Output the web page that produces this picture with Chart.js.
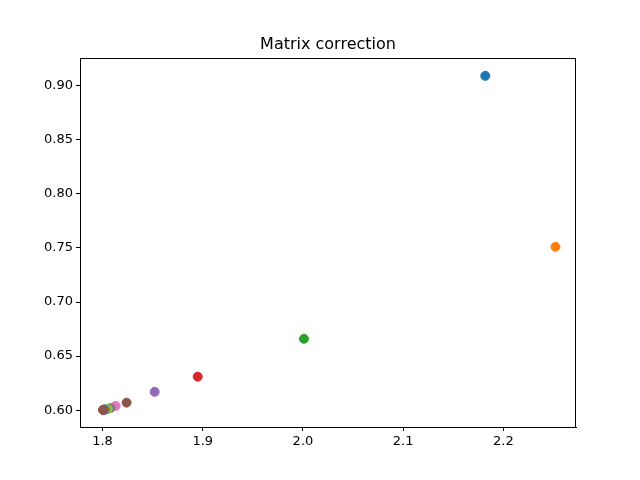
<!DOCTYPE html>
<html><head><meta charset="utf-8">
<script src="https://cdn.jsdelivr.net/npm/chart.js@4"></script>
<style>html,body{margin:0;background:#fff}#wrap{width:640px;height:480px}</style>
</head><body><div id="wrap"><canvas id="c"></canvas></div>
<script>
// steps of matrix correction, x vs y
const xVals=[2.182,2.252,2.001,1.895,1.852,1.824,1.813,1.808,1.805,1.803,1.802,1.8015,1.801,1.8008,1.8006,1.8005];
const yVals=[0.909,0.751,0.666,0.631,0.617,0.607,0.604,0.602,0.601,0.6008,0.6006,0.6005,0.6004,0.6003,0.6003,0.6003];
const CYCLE=['#1f77b4','#ff7f0e','#2ca02c','#d62728','#9467bd','#8c564b','#e377c2','#7f7f7f','#bcbd22','#17becf'];
const TITLE='Matrix correction';
const pts=xVals.map((x,i)=>({x,y:yVals[i]}));
const cols=xVals.map((_,i)=>CYCLE[i%10]);
const F='"DejaVu Sans"';
const frame={id:'frame',afterDraw(ch){const a=ch.chartArea,c=ch.ctx;c.save();
  c.strokeStyle='#000';c.lineWidth=1;c.strokeRect(a.left+0.5,a.top+0.5,a.right-a.left-1,a.bottom-a.top);
  c.fillStyle='#000';c.font='16px '+F;c.textAlign='center';c.textBaseline='alphabetic';
  c.fillText(TITLE,(a.left+a.right)/2,a.top-9);c.restore();}};
const ax={grid:{drawOnChartArea:false,color:'#000',tickLength:4},border:{color:'#000'},ticks:{color:'#000',font:{family:F,size:13}}};
new Chart(document.getElementById('c'),{type:'scatter',
  data:{datasets:[{data:pts,backgroundColor:cols,borderColor:cols,pointRadius:4.5,pointHoverRadius:4.5}]},
  options:{responsive:true,maintainAspectRatio:false,animation:false,
    layout:{padding:{left:0,right:64,top:58,bottom:0}},
    plugins:{legend:{display:false},tooltip:{enabled:false},title:{display:false}},
    scales:{
      x:{...ax,type:'linear',min:1.7775,max:2.2725,afterFit:s=>{s.height=53},
        ticks:{...ax.ticks,callback:v=>v.toFixed(1)},afterBuildTicks:s=>{s.ticks=[1.8,1.9,2.0,2.1,2.2].map(v=>({value:v}))}},
      y:{...ax,min:0.5845,max:0.9255,afterFit:s=>{s.width=80},
        ticks:{...ax.ticks,callback:v=>v.toFixed(2)},afterBuildTicks:s=>{s.ticks=[0.6,0.65,0.7,0.75,0.8,0.85,0.9].map(v=>({value:v}))}}
    }},plugins:[frame]});
</script></body></html>
